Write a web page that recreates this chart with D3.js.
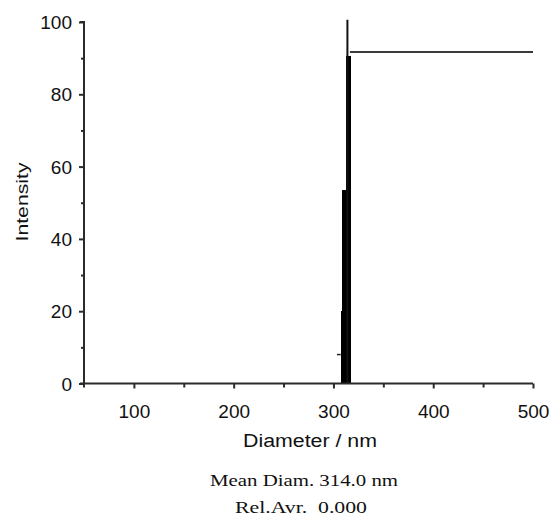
<!DOCTYPE html>
<html>
<head>
<meta charset="utf-8">
<script src="https://cdn.jsdelivr.net/npm/d3@7"></script>
<style>
  html, body { margin: 0; padding: 0; background: #fff; }
  svg { display: block; }
  text { white-space: pre; }
</style>
</head>
<body>
<svg id="chart" width="555" height="518"></svg>
<script>
// Size distribution bins (nm) and their intensities
const binStart = [307.3, 308.6, 312.3];
const binEnd = [308.6, 312.3, 318.0];
const binIntensity = [20, 53.5, 90.5];

// Small leading step of the distribution
const tailStart = [303.5];
const tailEnd = [307.3];
const tailIntensity = [8];

// Mean diameter marker and the level line to the right of the peak
const meanDiam = 314.0;
const meanTop = 100.6;
const levelX = [316.5, 500];
const levelY = [91.7, 91.7];

const xMajor = [100, 200, 300, 400, 500];
const xMinor = [150, 250, 350, 450];
const yMajor = [0, 20, 40, 60, 80, 100];
const yMinor = [10, 30, 50, 70, 90];

const svg = d3.select("#chart");
const x = d3.scaleLinear().domain([50, 500]).range([84, 533]);
const y = d3.scaleLinear().domain([0, 100]).range([383.5, 22]);

const axisColor = "#2b2b2b";
const sans = "'Liberation Sans', Arial, sans-serif";
const serif = "'Liberation Serif', 'Times New Roman', serif";

// Histogram bars
svg.append("g").attr("shape-rendering", "crispEdges").selectAll("rect")
  .data(binStart.map((s, i) => ({ s, e: binEnd[i], v: binIntensity[i] })))
  .join("rect")
  .attr("x", d => x(d.s))
  .attr("width", d => x(d.e) - x(d.s))
  .attr("y", d => y(d.v))
  .attr("height", d => y(0) - y(d.v))
  .attr("fill", "#000");

svg.append("g").selectAll("line")
  .data(tailStart.map((s, i) => ({ s, e: tailEnd[i], v: tailIntensity[i] })))
  .join("line")
  .attr("x1", d => x(d.s)).attr("x2", d => x(d.e))
  .attr("y1", d => y(d.v)).attr("y2", d => y(d.v))
  .attr("stroke", "#222").attr("stroke-width", 1.5);

// Mean marker
svg.append("line")
  .attr("x1", x(meanDiam)).attr("x2", x(meanDiam))
  .attr("y1", y(0)).attr("y2", y(meanTop))
  .attr("stroke", "#111").attr("stroke-width", 2);

// Level line
svg.append("path")
  .datum(levelX.map((v, i) => [v, levelY[i]]))
  .attr("d", d3.line().x(d => x(d[0])).y(d => y(d[1])))
  .attr("fill", "none")
  .attr("stroke", "#3a3a3a")
  .attr("stroke-width", 2);

// X axis
const xAxis = svg.append("g").attr("transform", `translate(0,${y(0)})`);
xAxis.call(d3.axisBottom(x).tickValues(xMajor).tickSize(5).tickPadding(16).tickSizeOuter(0));
xAxis.append("g").call(d3.axisBottom(x).tickValues(xMinor).tickSize(4).tickFormat(""))
  .select(".domain").remove();
xAxis.selectAll(".domain").attr("stroke", axisColor).attr("stroke-width", 2)
  .attr("d", `M${x(50) - 4},0H${x(500)}`);
xAxis.selectAll(".tick line").attr("stroke", axisColor).attr("stroke-width", 2);
xAxis.selectAll(".tick text")
  .attr("font-family", sans).attr("font-size", 19).attr("fill", "#111");

// Y axis
const yAxis = svg.append("g").attr("transform", `translate(${x(50)},0)`);
yAxis.call(d3.axisLeft(y).tickValues(yMajor).tickSize(5).tickPadding(7).tickSizeOuter(0));
yAxis.append("g").call(d3.axisLeft(y).tickValues(yMinor).tickSize(3).tickFormat(""))
  .select(".domain").remove();
yAxis.selectAll(".domain").attr("stroke", axisColor).attr("stroke-width", 2)
  .attr("d", `M-4,${y(100)}H0V${y(0) + 4}`);
yAxis.selectAll(".tick line").attr("stroke", axisColor).attr("stroke-width", 2);
yAxis.selectAll(".tick text")
  .attr("font-family", sans).attr("font-size", 19).attr("fill", "#111")
  .attr("dy", "0.35em");

// Axis titles
svg.append("text")
  .attr("transform", "translate(28,202) rotate(-90)")
  .attr("text-anchor", "middle")
  .attr("font-family", sans).attr("font-size", 17).attr("fill", "#111")
  .attr("textLength", 79).attr("lengthAdjust", "spacingAndGlyphs")
  .text("Intensity");

svg.append("text")
  .attr("x", 243).attr("y", 447)
  .attr("font-family", sans).attr("font-size", 18).attr("fill", "#111")
  .attr("textLength", 134).attr("lengthAdjust", "spacingAndGlyphs")
  .text("Diameter / nm");

// Summary lines
svg.append("text")
  .attr("x", 210).attr("y", 486)
  .attr("font-family", serif).attr("font-size", 16).attr("fill", "#111")
  .attr("textLength", 188).attr("lengthAdjust", "spacingAndGlyphs")
  .text(`Mean Diam. ${meanDiam.toFixed(1)} nm`);

svg.append("text")
  .attr("x", 235).attr("y", 513)
  .attr("font-family", serif).attr("font-size", 16).attr("fill", "#111")
  .attr("textLength", 132).attr("lengthAdjust", "spacingAndGlyphs")
  .text("Rel.Avr.  0.000");
</script>
</body>
</html>
